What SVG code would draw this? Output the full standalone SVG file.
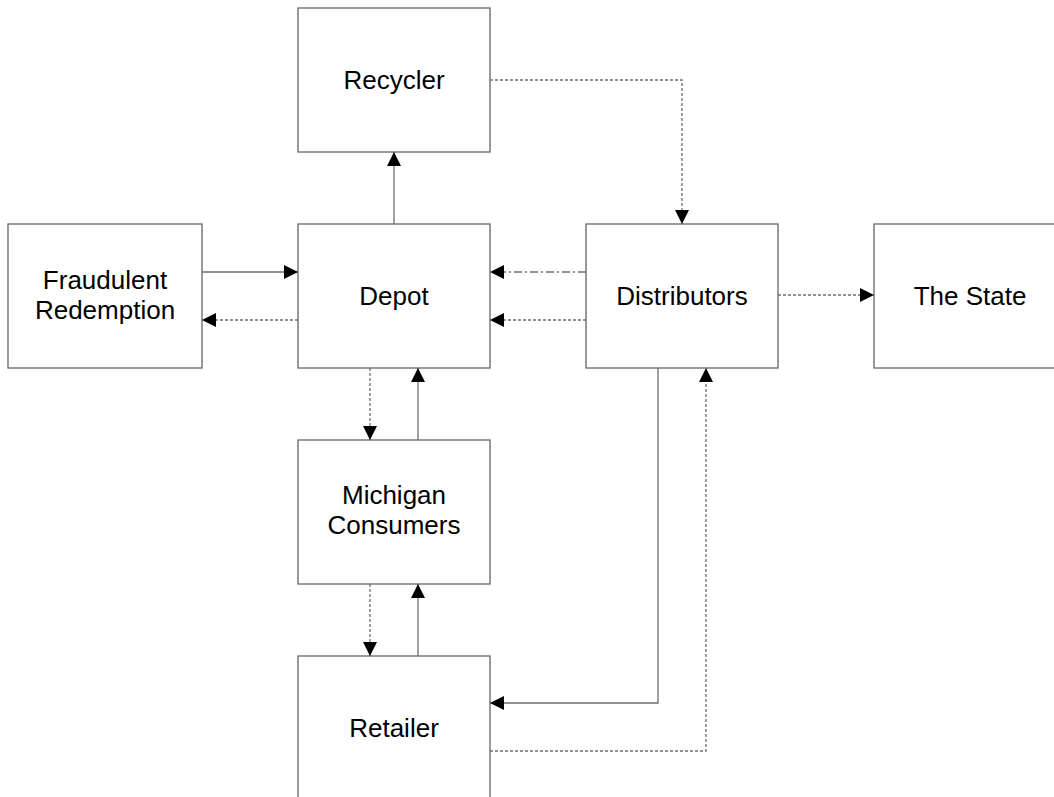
<svg xmlns="http://www.w3.org/2000/svg" width="1054" height="797" viewBox="0 0 1054 797">
<style>
.box{fill:#fff;stroke:#666;stroke-width:1.3}
.t{font-family:"Liberation Sans",Arial,sans-serif;font-size:26px;fill:#000;text-anchor:middle}
.c{fill:none;stroke:#6e6e6e;stroke-width:1.3}
.d{stroke-dasharray:3,2}
.dd{stroke-dasharray:8,3,2,3}
</style>
<defs>
<marker id="ah" viewBox="0 0 14 14" refX="14" refY="7" markerWidth="14" markerHeight="14" markerUnits="userSpaceOnUse" orient="auto">
<path d="M0,0 L14,7 L0,14 Z" fill="#000"/>
</marker>
</defs>
<rect width="1054" height="797" fill="#fff"/>
<g id="recycler"><rect class="box" x="298" y="8" width="192" height="144"/><text class="t" x="394" y="89">Recycler</text></g>
<g id="fraudulent"><rect class="box" x="8" y="224" width="194" height="144"/><text class="t" x="105" y="289">Fraudulent</text><text class="t" x="105" y="319">Redemption</text></g>
<g id="depot"><rect class="box" x="298" y="224" width="192" height="144"/><text class="t" x="394" y="305">Depot</text></g>
<g id="distributors"><rect class="box" x="586" y="224" width="192" height="144"/><text class="t" x="682" y="305">Distributors</text></g>
<g id="state"><rect class="box" x="874" y="224" width="194" height="144"/><text class="t" x="970" y="305">The State</text></g>
<g id="michigan"><rect class="box" x="298" y="440" width="192" height="144"/><text class="t" x="394" y="504">Michigan</text><text class="t" x="394" y="534">Consumers</text></g>
<g id="retailer"><rect class="box" x="298" y="656" width="192" height="160"/><text class="t" x="394" y="737">Retailer</text></g>
<g id="connectors">
<path class="c d" d="M490,80 H682 V224" marker-end="url(#ah)"/>
<path class="c" d="M394,224 V152" marker-end="url(#ah)"/>
<path class="c" d="M202,272 H298" marker-end="url(#ah)"/>
<path class="c d" d="M298,320 H202" marker-end="url(#ah)"/>
<path class="c dd" d="M586,272 H490" marker-end="url(#ah)"/>
<path class="c d" d="M586,320 H490" marker-end="url(#ah)"/>
<path class="c d" d="M778,295 H874" marker-end="url(#ah)"/>
<path class="c d" d="M370,368 V440" marker-end="url(#ah)"/>
<path class="c" d="M418,440 V368" marker-end="url(#ah)"/>
<path class="c d" d="M370,584 V656" marker-end="url(#ah)"/>
<path class="c" d="M418,656 V584" marker-end="url(#ah)"/>
<path class="c" d="M658,368 V703 H490" marker-end="url(#ah)"/>
<path class="c d" d="M490,751 H706 V368" marker-end="url(#ah)"/>
</g>
</svg>
